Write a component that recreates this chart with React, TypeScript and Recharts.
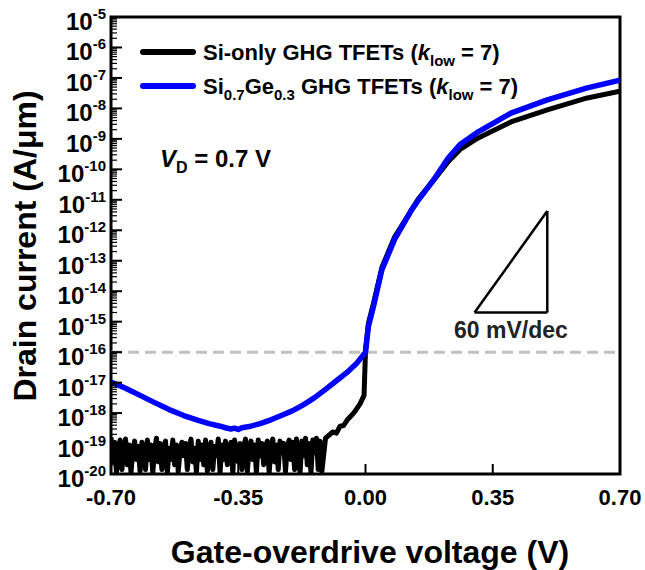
import React from 'react';
import {
  LineChart,
  Line,
  XAxis,
  YAxis,
  ReferenceLine,
  ReferenceArea,
  ReferenceDot,
} from 'recharts';

const FONT = "'Liberation Sans', Arial, Helvetica, sans-serif";

// Axis ticks
const voltageTicks = [-0.7, -0.35, 0, 0.35, 0.7];
const decadeExponents = [-20, -19, -18, -17, -16, -15, -14, -13, -12, -11, -10, -9, -8, -7, -6, -5];
const minorMultipliers = [2, 3, 4, 5, 6, 7, 8, 9];

// Si-only GHG TFET: noise floor sampled every 5 mV from -0.700 V to -0.120 V
const siOnlyFloorV = [
  -0.700, -0.695, -0.690, -0.685, -0.680, -0.675, -0.670, -0.665, -0.660, -0.655,
  -0.650, -0.645, -0.640, -0.635, -0.630, -0.625, -0.620, -0.615, -0.610, -0.605,
  -0.600, -0.595, -0.590, -0.585, -0.580, -0.575, -0.570, -0.565, -0.560, -0.555,
  -0.550, -0.545, -0.540, -0.535, -0.530, -0.525, -0.520, -0.515, -0.510, -0.505,
  -0.500, -0.495, -0.490, -0.485, -0.480, -0.475, -0.470, -0.465, -0.460, -0.455,
  -0.450, -0.445, -0.440, -0.435, -0.430, -0.425, -0.420, -0.415, -0.410, -0.405,
  -0.400, -0.395, -0.390, -0.385, -0.380, -0.375, -0.370, -0.365, -0.360, -0.355,
  -0.350, -0.345, -0.340, -0.335, -0.330, -0.325, -0.320, -0.315, -0.310, -0.305,
  -0.300, -0.295, -0.290, -0.285, -0.280, -0.275, -0.270, -0.265, -0.260, -0.255,
  -0.250, -0.245, -0.240, -0.235, -0.230, -0.225, -0.220, -0.215, -0.210, -0.205,
  -0.200, -0.195, -0.190, -0.185, -0.180, -0.175, -0.170, -0.165, -0.160, -0.155,
  -0.150, -0.145, -0.140, -0.135, -0.130, -0.125, -0.120,
];
const siOnlyFloorI = [
  1.6e-19, 2.5e-20, 1.1e-19, 1.1e-20, 7e-20, 1.3e-19, 1.4e-20, 6e-20, 1.4e-19, 2e-20,
  9e-20, 1.1e-20, 6e-20, 1.2e-19, 3e-20, 8e-20, 1.2e-20, 1.1e-19, 7e-20, 1.4e-20,
  1.3e-19, 3e-20, 9e-20, 1.1e-20, 6e-20, 1.5e-19, 2.5e-20, 1.0e-19, 1.4e-20, 8e-20,
  1.2e-19, 1.1e-20, 7e-20, 3e-20, 1.3e-19, 2e-20, 9e-20, 1.2e-20, 6e-20, 1.1e-19,
  4e-20, 1.0e-19, 1.4e-20, 8e-20, 1.4e-19, 2.5e-20, 7e-20, 1.1e-20, 1.2e-19, 3e-20,
  9e-20, 2e-20, 1.3e-19, 1.2e-20, 6e-20, 1.1e-19, 1.4e-20, 8e-20, 4e-20, 1.4e-19,
  1.1e-20, 9e-20, 3e-20, 1.2e-19, 2e-20, 7e-20, 1.1e-19, 1.1e-20, 1.3e-19, 5e-20,
  2.5e-20, 1.0e-19, 1.4e-20, 8e-20, 1.4e-19, 1.2e-20, 7e-20, 1.2e-19, 3e-20, 9e-20,
  1.1e-20, 1.3e-19, 4e-20, 1.0e-19, 2e-20, 8e-20, 1.2e-19, 1.1e-20, 7e-20, 1.4e-19,
  2.5e-20, 9e-20, 1.4e-20, 1.2e-19, 5e-20, 1.0e-19, 1.2e-20, 8e-20, 1.3e-19, 3e-20,
  1.1e-19, 1.4e-20, 1.4e-19, 6e-20, 1.1e-20, 1.2e-19, 4e-20, 1.5e-19, 2e-20, 1.0e-19,
  1.1e-20, 1.3e-19, 5e-20, 1.5e-19, 1.4e-20, 1.2e-19, 1.2e-20,
];
// Si-only GHG TFET: turn-on branch
const siOnlyRiseV = [
  -0.11, -0.10, -0.09, -0.08, -0.07, -0.06, -0.05, -0.04, -0.03, -0.015, -0.004,
  0.0, 0.008, 0.022, 0.045, 0.08, 0.126, 0.146, 0.19, 0.228, 0.26, 0.31, 0.40, 0.50, 0.61, 0.70,
];
const siOnlyRiseI = [
  1.5e-19, 1.9e-19, 2.4e-19, 2.2e-19, 3.7e-19, 3.9e-19, 6e-19, 8e-19, 1.1e-18, 2e-18, 3.8e-18,
  1.1e-16, 9e-16, 4e-15, 6e-14, 6e-13, 4.5e-12, 1.1e-11, 4.8e-11, 1.8e-10, 4.5e-10, 1.07e-9, 3.6e-9, 8.9e-9, 2.2e-8, 3.7e-8,
];

// Si0.7Ge0.3 GHG TFET transfer curve
const siGeV = [
  -0.70, -0.66, -0.62, -0.58, -0.54, -0.50, -0.46, -0.43, -0.40, -0.385,
  -0.37, -0.36, -0.35, -0.34, -0.32, -0.29, -0.26, -0.23, -0.20, -0.17,
  -0.14, -0.11, -0.08, -0.05, -0.025, 0.0, 0.008, 0.022, 0.045, 0.08,
  0.126, 0.146, 0.19, 0.228, 0.26, 0.31, 0.40, 0.50, 0.61, 0.70,
];
const siGeI = [
  1.05e-17, 6.5e-18, 3.8e-18, 2.2e-18, 1.3e-18, 8.3e-19, 5.8e-19, 4.5e-19, 3.7e-19, 3.3e-19,
  3.0e-19, 3.2e-19, 2.9e-19, 3.3e-19, 3.6e-19, 4.5e-19, 6.0e-19, 8.5e-19, 1.2e-18, 1.9e-18,
  3.2e-18, 6.0e-18, 1.15e-17, 2.2e-17, 4.2e-17, 1.0e-16, 7e-16, 3.2e-15, 5e-14, 5e-13,
  4.5e-12, 1.0e-11, 5e-11, 2.4e-10, 6.5e-10, 1.7e-9, 7e-9, 1.9e-8, 4.7e-8, 8.5e-8,
];

// Annotations
const offCurrentLevel = 1e-16;
const slopeV = [0.3, 0.5];
const slopeI = [2e-15, 4.3e-12];
const slopeLabelPoint = { v: 0.4, i: 5.2e-16 };

const siOnlyData = [
  ...siOnlyFloorV.map((v, k) => ({ v, i: siOnlyFloorI[k] })),
  ...siOnlyRiseV.map((v, k) => ({ v, i: siOnlyRiseI[k] })),
];
const siGeData = siGeV.map((v, k) => ({ v, i: siGeI[k] }));

const currentTicks: number[] = [];
decadeExponents.forEach((e) => {
  currentTicks.push(Math.pow(10, e));
  if (e < -5) minorMultipliers.forEach((m) => currentTicks.push(m * Math.pow(10, e)));
});

const CHART_W = 645;
const CHART_H = 570;
const PLOT_LEFT = 111;
const PLOT_RIGHT = 620;
const PLOT_TOP = 17;
const PLOT_BOTTOM = 474;

const XTick = (props: any) => {
  const { x, payload } = props;
  const v = payload.value as number;
  const inner = Math.abs(v) < 0.69;
  return (
    <g>
      {inner && <line x1={x} x2={x} y1={PLOT_BOTTOM} y2={PLOT_BOTTOM - 10} stroke="#000" strokeWidth={2} />}
      <text x={x} y={505} textAnchor="middle" fontFamily={FONT} fontWeight="bold" fontSize={22} fill="#000">
        {v.toFixed(2)}
      </text>
    </g>
  );
};

const YTick = (props: any) => {
  const { y, payload } = props;
  const v = payload.value as number;
  const lg = Math.log10(v);
  const exp = Math.round(lg);
  const major = Math.abs(lg - exp) < 1e-6;
  return (
    <g>
      <line x1={PLOT_LEFT} x2={PLOT_LEFT + (major ? 11 : 6)} y1={y} y2={y} stroke="#000" strokeWidth={major ? 2 : 1.2} />
      {major && (
        <text x={106} y={y + 13} textAnchor="end" fontFamily={FONT} fontWeight="bold" fill="#000">
          <tspan fontSize={24}>10</tspan>
          <tspan fontSize={15} dy={-11}>{String(exp)}</tspan>
        </text>
      )}
    </g>
  );
};

const SlopeLabel = (props: any) => {
  const vb = props.viewBox || {};
  const cx = (vb.x ?? 0) + (vb.width ?? 0) / 2;
  const cy = (vb.y ?? 0) + (vb.height ?? 0) / 2;
  return (
    <text x={cx} y={cy + 8} textAnchor="middle" fontFamily={FONT} fontWeight="bold" fontSize={23} fill="#222">
      60 mV/dec
    </text>
  );
};

export default function App() {
  return (
    <div style={{ position: 'absolute', left: 0, top: 0, background: '#fff' }}>
      <LineChart
        width={CHART_W}
        height={CHART_H}
        margin={{ top: PLOT_TOP, right: CHART_W - PLOT_RIGHT, bottom: 0, left: 0 }}
      >
        <XAxis
          dataKey="v"
          type="number"
          domain={[-0.7, 0.7]}
          ticks={voltageTicks}
          interval={0}
          allowDataOverflow
          height={CHART_H - PLOT_BOTTOM}
          axisLine={false}
          tickLine={false}
          tick={<XTick />}
        />
        <YAxis
          dataKey="i"
          type="number"
          scale="log"
          domain={[1e-20, 1e-5]}
          ticks={currentTicks}
          interval={0}
          allowDataOverflow
          width={PLOT_LEFT}
          axisLine={false}
          tickLine={false}
          tick={<YTick />}
        />
        <ReferenceArea
          x1={-0.7}
          x2={0.7}
          y1={1e-20}
          y2={1e-5}
          fill="none"
          fillOpacity={0}
          stroke="#000"
          strokeWidth={3}
          ifOverflow="visible"
        />
        <ReferenceLine
          y={offCurrentLevel}
          stroke="#c0c0c0"
          strokeWidth={3}
          strokeDasharray="11 6"
        />
        <ReferenceLine
          segment={[{ x: slopeV[0], y: slopeI[0] }, { x: slopeV[1], y: slopeI[0] }]}
          stroke="#000"
          strokeWidth={2.5}
        />
        <ReferenceLine
          segment={[{ x: slopeV[1], y: slopeI[0] }, { x: slopeV[1], y: slopeI[1] }]}
          stroke="#000"
          strokeWidth={2.5}
        />
        <ReferenceLine
          segment={[{ x: slopeV[0], y: slopeI[0] }, { x: slopeV[1], y: slopeI[1] }]}
          stroke="#000"
          strokeWidth={2.5}
        />
        <ReferenceDot
          x={slopeLabelPoint.v}
          y={slopeLabelPoint.i}
          r={1}
          fill="none"
          stroke="none"
          label={<SlopeLabel />}
        />
        <Line
          data={siOnlyData}
          dataKey="i"
          type="linear"
          stroke="#000"
          strokeWidth={5}
          strokeLinejoin="round"
          dot={false}
          isAnimationActive={false}
        />
        <Line
          data={siGeData}
          dataKey="i"
          type="linear"
          stroke="#0000ff"
          strokeWidth={5.5}
          strokeLinejoin="round"
          dot={false}
          isAnimationActive={false}
        />
        <g fontFamily={FONT} fontWeight="bold" fill="#000">
          <line x1={143} x2={193} y1={52} y2={52} stroke="#000" strokeWidth={6} strokeLinecap="round" />
          <text x={203} y={60} fontSize={22}>
            Si-only GHG TFETs (<tspan fontStyle="italic">k</tspan>
            <tspan fontSize={15} dy={6}>low</tspan>
            <tspan dy={-6}> = 7)</tspan>
          </text>
          <line x1={143} x2={193} y1={86} y2={86} stroke="#0000ff" strokeWidth={6} strokeLinecap="round" />
          <text x={203} y={94} fontSize={22}>
            Si<tspan fontSize={15} dy={6}>0.7</tspan>
            <tspan dy={-6}>Ge</tspan>
            <tspan fontSize={15} dy={6}>0.3</tspan>
            <tspan dy={-6}> GHG TFETs (</tspan>
            <tspan fontStyle="italic">k</tspan>
            <tspan fontSize={15} dy={6}>low</tspan>
            <tspan dy={-6}> = 7)</tspan>
          </text>
          <text x={160} y={167} fontSize={24}>
            <tspan fontStyle="italic">V</tspan>
            <tspan fontSize={16} dy={6}>D</tspan>
            <tspan dy={-6}> = 0.7 V</tspan>
          </text>
          <text
            x={36}
            y={246}
            fontSize={32}
            textAnchor="middle"
            transform="rotate(-90 36 246)"
          >
            Drain current (A/μm)
          </text>
          <text x={370} y={563} fontSize={32} textAnchor="middle">
            Gate-overdrive voltage (V)
          </text>
        </g>
      </LineChart>
    </div>
  );
}
